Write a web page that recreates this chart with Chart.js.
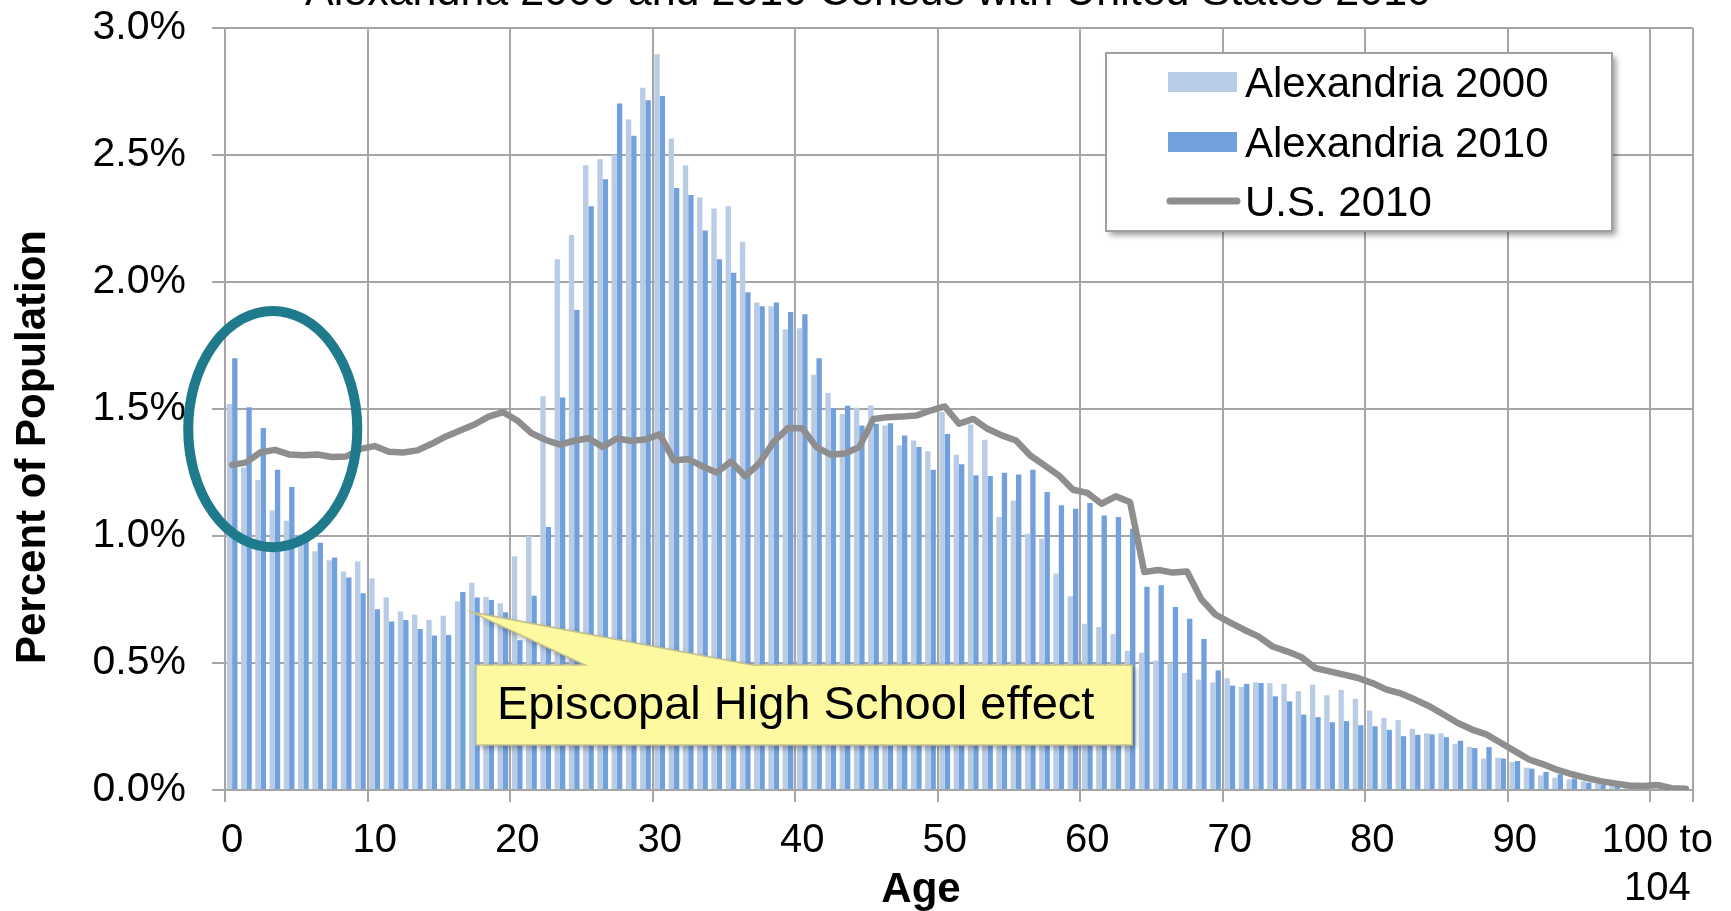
<!DOCTYPE html>
<html lang="en">
<head>
<meta charset="UTF-8">
<title>Alexandria 2000 and 2010 Census with United States 2010</title>
<script src="https://cdn.jsdelivr.net/npm/chart.js"></script>
<style>
    body { margin: 0; background: #fff; }
    #wrap { width: 1731px; height: 911px; }
</style>
</head>
<body>
<div id="wrap"><canvas id="ageChart" width="1731" height="911"></canvas></div>
<script>
// single years of age 0-99, then the open-ended groups
const ageLabels = [];
for (let a = 0; a < 100; a++) ageLabels.push(String(a));
ageLabels.push('100 to 104', '105 to 109', '110 and over');

// labels shown under every 10th category
const tickLabels = ['0', '10', '20', '30', '40', '50', '60', '70', '80', '90', ['100 to', '104']];

const yTicks = { min: 0, max: 3, step: 0.5 };

// percent of population
const alex2000 = [
    1.52, 1.27, 1.22, 1.10, 1.06, 1.006, 0.94, 0.905, 0.86, 0.90,
    0.834, 0.758, 0.703, 0.69, 0.669, 0.686, 0.742, 0.816, 0.76, 0.735,
    0.92, 1.00, 1.55, 2.09, 2.185, 2.46, 2.483, 2.50, 2.64, 2.765,
    2.897, 2.565, 2.46, 2.333, 2.289, 2.298, 2.158, 1.919, 1.905, 1.814,
    1.818, 1.635, 1.563, 1.48, 1.505, 1.514, 1.435, 1.356, 1.376, 1.334,
    1.488, 1.32, 1.439, 1.379, 1.075, 1.14, 1.009, 0.99, 0.852, 0.763,
    0.655, 0.642, 0.613, 0.548, 0.54, 0.51, 0.50, 0.461, 0.435, 0.424,
    0.44, 0.406, 0.424, 0.421, 0.418, 0.389, 0.415, 0.373, 0.394, 0.359,
    0.313, 0.284, 0.275, 0.241, 0.223, 0.223, 0.182, 0.17, 0.124, 0.127,
    0.11, 0.088, 0.058, 0.048, 0.042, 0.035, 0.025, 0.016, 0.010, 0.007,
    0.006, 0, 0
];
const alex2010 = [
    1.70, 1.507, 1.425, 1.261, 1.193, 1.013, 0.973, 0.915, 0.837, 0.775,
    0.712, 0.663, 0.669, 0.634, 0.608, 0.610, 0.780, 0.758, 0.748, 0.70,
    0.59, 0.765, 1.035, 1.545, 1.89, 2.298, 2.405, 2.703, 2.576, 2.716,
    2.732, 2.370, 2.343, 2.203, 2.09, 2.036, 1.96, 1.905, 1.919, 1.882,
    1.873, 1.70, 1.503, 1.513, 1.435, 1.442, 1.444, 1.396, 1.35, 1.261,
    1.402, 1.282, 1.239, 1.236, 1.249, 1.242, 1.261, 1.173, 1.121, 1.107,
    1.13, 1.081, 1.075, 1.029, 0.80, 0.806, 0.72, 0.674, 0.594, 0.471,
    0.411, 0.418, 0.421, 0.369, 0.349, 0.297, 0.287, 0.267, 0.271, 0.255,
    0.251, 0.237, 0.212, 0.217, 0.219, 0.208, 0.194, 0.165, 0.169, 0.124,
    0.114, 0.084, 0.071, 0.062, 0.045, 0.029, 0.022, 0.016, 0.010, 0.006,
    0.008, 0, 0
];
const us2010 = [
    1.28, 1.29, 1.33, 1.339, 1.321, 1.318, 1.321, 1.311, 1.313, 1.343,
    1.354, 1.332, 1.329, 1.337, 1.363, 1.392, 1.415, 1.439, 1.47, 1.488,
    1.455, 1.405, 1.378, 1.36, 1.375, 1.385, 1.351, 1.384, 1.375, 1.38,
    1.40, 1.297, 1.303, 1.274, 1.25, 1.293, 1.235, 1.287, 1.371, 1.425,
    1.424, 1.35, 1.32, 1.325, 1.35, 1.461, 1.468, 1.47, 1.474, 1.494,
    1.51, 1.442, 1.461, 1.422, 1.396, 1.376, 1.317, 1.278, 1.239, 1.182,
    1.17, 1.127, 1.156, 1.134, 0.858, 0.866, 0.856, 0.86, 0.751, 0.69,
    0.66, 0.631, 0.605, 0.565, 0.546, 0.524, 0.48, 0.467, 0.454, 0.441,
    0.421, 0.395, 0.38, 0.356, 0.33, 0.297, 0.264, 0.238, 0.219, 0.186,
    0.153, 0.12, 0.101, 0.079, 0.062, 0.048, 0.035, 0.026, 0.018, 0.016,
    0.02, 0.007, 0.005
];

const gridGray = '#A6A6A6';
const fontFamily = "'Liberation Sans', Arial, sans-serif";

// annotations, in axis units (category index, percent)
const ring = { x: 2.85, y: 1.421, rx: 5.93, ry: 0.465 };
const callout = {
    text: 'Episcopal High School effect',
    tip: { x: 16.81, y: 0.70 },
    baseFrom: 24.76, baseTo: 36.48,
    left: 17.11, right: 63.15, top: 0.492, bottom: 0.177
};

const overlayPlugin = {
    id: 'overlay',
    afterDatasetsDraw(chart) {
        const ctx = chart.ctx;
        const xs = chart.scales.x, ys = chart.scales.y;

        // teal ring round the young ages
        const cx = xs.getPixelForValue(ring.x), cy = ys.getPixelForValue(ring.y);
        const rx = xs.getPixelForValue(ring.x + ring.rx) - cx;
        const ry = cy - ys.getPixelForValue(ring.y + ring.ry);
        ctx.save();
        ctx.beginPath();
        ctx.ellipse(cx, cy, rx, ry, 0, 0, Math.PI * 2);
        ctx.lineWidth = 10;
        ctx.strokeStyle = '#1F7A8C';
        ctx.stroke();
        ctx.restore();

        // yellow callout
        const L = xs.getPixelForValue(callout.left), R = xs.getPixelForValue(callout.right);
        const T = ys.getPixelForValue(callout.top), B = ys.getPixelForValue(callout.bottom);
        ctx.save();
        ctx.beginPath();
        ctx.moveTo(L, T);
        ctx.lineTo(xs.getPixelForValue(callout.baseFrom), T);
        ctx.lineTo(xs.getPixelForValue(callout.tip.x), ys.getPixelForValue(callout.tip.y));
        ctx.lineTo(xs.getPixelForValue(callout.baseTo), T);
        ctx.lineTo(R, T);
        ctx.lineTo(R, B);
        ctx.lineTo(L, B);
        ctx.closePath();
        ctx.shadowColor = 'rgba(0,0,0,0.35)';
        ctx.shadowBlur = 6;
        ctx.shadowOffsetX = 3;
        ctx.shadowOffsetY = 3;
        ctx.fillStyle = '#FCF9A0';
        ctx.fill();
        ctx.shadowColor = 'transparent';
        ctx.lineWidth = 1.5;
        ctx.strokeStyle = '#C4C08E';
        ctx.stroke();
        ctx.fillStyle = '#000';
        ctx.font = '47px ' + fontFamily;
        ctx.textBaseline = 'middle';
        ctx.textAlign = 'left';
        ctx.fillText(callout.text, L + 21, (T + B) / 2 + 1);
        ctx.restore();
    },
    afterDraw(chart) {
        const ctx = chart.ctx;
        ctx.save();

        // chart title, cut off by the top edge as in the original
        ctx.fillStyle = '#000';
        ctx.font = '43px ' + fontFamily;
        ctx.textAlign = 'center';
        ctx.textBaseline = 'alphabetic';
        ctx.fillText('Alexandria 2000 and 2010 Census with United States 2010', 868, 5);

        // axis titles
        ctx.font = 'bold 42px ' + fontFamily;
        ctx.textBaseline = 'middle';
        ctx.fillText('Age', 921, 890);
        ctx.save();
        ctx.translate(33, 447);
        ctx.rotate(-Math.PI / 2);
        ctx.fillText('Percent of Population', 0, 0);
        ctx.restore();

        // legend box
        const bx = 1106, by = 53, bw = 506, bh = 178;
        ctx.save();
        ctx.shadowColor = 'rgba(0,0,0,0.4)';
        ctx.shadowBlur = 6;
        ctx.shadowOffsetX = 4;
        ctx.shadowOffsetY = 4;
        ctx.fillStyle = '#fff';
        ctx.fillRect(bx, by, bw, bh);
        ctx.restore();
        ctx.lineWidth = 2;
        ctx.strokeStyle = '#A0A0A0';
        ctx.strokeRect(bx, by, bw, bh);

        const rows = [82, 142, 201];
        ctx.font = '42px ' + fontFamily;
        ctx.textAlign = 'left';
        chart.data.datasets.forEach((ds, i) => {
            const yy = rows[i];
            if (ds.type === 'line') {
                ctx.beginPath();
                ctx.moveTo(1170, yy);
                ctx.lineTo(1237, yy);
                ctx.lineWidth = 7;
                ctx.lineCap = 'round';
                ctx.strokeStyle = ds.borderColor;
                ctx.stroke();
            } else {
                ctx.fillStyle = ds.backgroundColor;
                ctx.fillRect(1168, yy - 10, 69, 20);
            }
            ctx.fillStyle = '#000';
            ctx.fillText(ds.label, 1245, yy + 3);
        });
        ctx.restore();
    }
};

new Chart(document.getElementById('ageChart'), {
    type: 'bar',
    data: {
        labels: ageLabels,
        datasets: [
            {
                label: 'Alexandria 2000',
                data: alex2000,
                backgroundColor: '#B8CCE6',
                borderWidth: 0,
                order: 1
            },
            {
                label: 'Alexandria 2010',
                data: alex2010,
                backgroundColor: '#72A0DC',
                borderWidth: 0,
                order: 1
            },
            {
                label: 'U.S. 2010',
                type: 'line',
                data: us2010,
                borderColor: '#8E8E8E',
                borderWidth: 6.5,
                pointRadius: 0,
                tension: 0,
                borderCapStyle: 'round',
                borderJoinStyle: 'round',
                fill: false,
                order: 0
            }
        ]
    },
    options: {
        responsive: false,
        animation: false,
        devicePixelRatio: 1,
        categoryPercentage: 0.75,
        barPercentage: 1.0,
        layout: { padding: { top: 28, right: 38, left: 0, bottom: 0 } },
        plugins: {
            legend: { display: false },
            tooltip: { enabled: false },
            title: { display: false }
        },
        scales: {
            x: {
                offset: true,
                grid: {
                    offset: true,
                    lineWidth: 2,
                    tickLength: 12,
                    color: c => (c.index === undefined || c.index % 10 === 0) ? gridGray : 'rgba(0,0,0,0)'
                },
                border: { color: gridGray, width: 2 },
                ticks: {
                    autoSkip: false,
                    maxRotation: 0,
                    minRotation: 0,
                    padding: 15,
                    color: '#000',
                    font: { family: fontFamily, size: 40 },
                    callback: (v, i) => (i % 10 === 0 && tickLabels[i / 10] !== undefined) ? tickLabels[i / 10] : ''
                },
                afterFit: s => {
                    s.height = 121;
                    s.paddingLeft = 0;
                    s.paddingRight = 0;
                }
            },
            y: {
                min: yTicks.min,
                max: yTicks.max,
                grid: { color: gridGray, lineWidth: 2, tickLength: 13 },
                border: { color: gridGray, width: 2 },
                ticks: {
                    stepSize: yTicks.step,
                    padding: 26,
                    color: '#000',
                    font: { family: fontFamily, size: 41 },
                    callback: v => v.toFixed(1) + '%'
                },
                afterFit: s => {
                    s.width = 225;
                    s.paddingTop = 0;
                    s.paddingBottom = 0;
                }
            }
        }
    },
    plugins: [overlayPlugin]
});
</script>
</body>
</html>
